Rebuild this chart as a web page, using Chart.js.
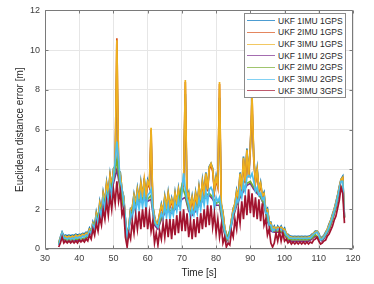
<!DOCTYPE html>
<html>
<head>
<meta charset="utf-8">
<script src="https://cdn.jsdelivr.net/npm/chart.js@4/dist/chart.umd.min.js"></script>
<style>
  html, body { margin: 0; padding: 0; background: #fff; }
  #wrap { position: relative; width: 374px; height: 284px; }
  #legend {
    position: absolute; left: 244px; top: 13px; width: 100px; height: 82px; padding-top: 1px;
    border: 1px solid #8a8a8a; background: #fff;
    font-family: 'Liberation Sans', Arial, sans-serif; font-size: 8.5px; color: #262626;
  }
  .legend-item { display: flex; align-items: center; height: 11.67px; white-space: nowrap; }
  .legend-line { width: 28px; height: 1px; margin: 0 3px 0 2px; opacity: 0.7; }
</style>
</head>
<body>
<div id="wrap">
  <canvas id="chart" width="374" height="284"></canvas>
  <div id="legend"></div>
</div>
<script>
// ─── Data ──────────────────────────────────────────────────────────────────
// fine series sampled every 0.5 s from 34 s, coarse every 1 s from 34 s
const T_FINE = Array.from({ length: 168 }, (_, i) => 34 + i * 0.5);
const T_COARSE = Array.from({ length: 84 }, (_, i) => 34 + i);

const LABELS = ['UKF 1IMU 1GPS', 'UKF 2IMU 1GPS', 'UKF 3IMU 1GPS', 'UKF 1IMU 2GPS', 'UKF 2IMU 2GPS', 'UKF 3IMU 2GPS', 'UKF 3IMU 3GPS'];
const COLORS = ['#0072BD', '#D95319', '#EDB120', '#7E2F8E', '#77AC30', '#4DBEEE', '#A2142F'];

const UKF1_1GPS = [
  0.3,0.6, 0.85,0.66, 0.7,0.66, 0.7,0.66, 0.7,0.68,
  0.74,0.7, 0.74,0.72, 0.78,0.76, 0.84,0.8, 1.05,0.85,
  1.35,1.1, 1.85,1.45, 2.35,1.85, 2.85,2.35, 3.35,2.75,
  3.75,3.05, 4.05,4.15, 9.0,3.95, 3.85,2.95, 2.65,1.45,
  0.75,1.05, 2.05,2.05, 2.75,2.25, 3.05,2.45, 3.35,2.55,
  3.55,2.65, 3.45,3.15, 5.5,2.15, 1.65,1.25, 1.35,1.75,
  2.25,1.85, 2.65,2.05, 2.85,2.15, 2.55,2.05, 2.85,2.25,
  3.05,2.45, 3.15,3.25, 7.8,2.55, 2.85,2.05, 2.65,2.05,
  2.85,2.25, 3.15,2.45, 3.45,2.75, 3.85,2.95, 4.15,4.3,
  4.05,2.95, 3.65,3.15, 7.6,2.25, 1.85,1.05, 0.75,0.45,
  0.95,1.45, 2.05,2.25, 2.95,2.55, 3.85,2.95, 4.65,3.35,
  5.05,3.65, 5.15,7.0, 4.65,3.35, 4.05,2.95, 3.35,2.65,
  2.85,1.95, 2.05,1.35, 1.35,0.95, 1.15,0.95, 1.15,1.0,
  1.15,0.95, 1.05,0.75, 0.74,0.66, 0.64,0.62, 0.64,0.62,
  0.64,0.62, 0.64,0.62, 0.64,0.62, 0.64,0.66, 0.74,0.8,
  0.9,0.9, 0.8,0.55, 0.6,0.68, 0.85,1.0, 1.25,1.45,
  1.75,2.0, 2.35,2.7, 3.15,3.5, 3.65,1.6
];
const UKF2_1GPS = [
  0.25,0.5, 0.75,0.58, 0.62,0.56, 0.62,0.56, 0.62,0.58,
  0.66,0.6, 0.66,0.62, 0.7,0.66, 0.76,0.72, 0.95,0.85,
  1.25,1.1, 1.7,1.45, 2.2,1.85, 2.7,2.3, 3.2,2.7,
  3.6,3.0, 3.9,4.1, 10.6,4.0, 3.7,2.9, 2.5,1.4,
  0.65,1.05, 1.9,2.0, 2.6,2.2, 2.9,2.4, 3.2,2.5,
  3.4,2.6, 3.3,3.1, 6.0,2.1, 1.55,1.25, 1.25,1.75,
  2.1,1.85, 2.5,2.0, 2.7,2.1, 2.4,2.0, 2.7,2.2,
  2.9,2.4, 3.0,3.2, 8.4,2.5, 2.7,2.0, 2.5,2.0,
  2.7,2.2, 3.0,2.4, 3.3,2.7, 3.7,2.9, 4.0,4.2,
  3.9,2.9, 3.5,3.1, 8.3,2.2, 1.75,1.05, 0.65,0.48,
  0.85,1.45, 1.9,2.2, 2.8,2.5, 3.7,2.9, 4.5,3.3,
  4.9,3.6, 5.0,7.6, 4.5,3.3, 3.9,2.9, 3.2,2.6,
  2.7,1.9, 1.9,1.35, 1.25,0.95, 1.05,0.95, 1.05,1.0,
  1.05,0.95, 0.95,0.75, 0.66,0.6, 0.57,0.55, 0.57,0.55,
  0.57,0.55, 0.57,0.55, 0.57,0.55, 0.57,0.6, 0.66,0.76,
  0.82,0.86, 0.72,0.48, 0.52,0.62, 0.76,0.95, 1.15,1.4,
  1.65,1.95, 2.25,2.65, 3.05,3.45, 3.55,1.55
];
const UKF3_1GPS = [
  0.3,0.55, 0.8,0.6, 0.65,0.58, 0.65,0.58, 0.65,0.6,
  0.7,0.62, 0.7,0.65, 0.75,0.68, 0.8,0.75, 1.0,0.9,
  1.3,1.15, 1.8,1.5, 2.3,1.9, 2.8,2.4, 3.3,2.8,
  3.7,3.1, 4.0,4.2, 10.5,4.0, 3.8,3.0, 2.6,1.5,
  0.7,1.1, 2.0,2.1, 2.7,2.3, 3.0,2.5, 3.3,2.6,
  3.5,2.7, 3.4,3.2, 6.1,2.2, 1.6,1.3, 1.3,1.8,
  2.2,1.9, 2.6,2.1, 2.8,2.2, 2.5,2.1, 2.8,2.3,
  3.0,2.5, 3.1,3.3, 8.5,2.6, 2.8,2.1, 2.6,2.1,
  2.8,2.3, 3.1,2.5, 3.4,2.8, 3.8,3.0, 4.1,4.3,
  4.0,3.0, 3.6,3.2, 8.4,2.3, 1.8,1.1, 0.7,0.5,
  0.9,1.5, 2.0,2.3, 2.9,2.6, 3.8,3.0, 4.6,3.4,
  5.0,3.7, 5.1,7.7, 4.6,3.4, 4.0,3.0, 3.3,2.7,
  2.8,2.0, 2.0,1.4, 1.3,1.0, 1.1,1.0, 1.1,1.05,
  1.1,1.0, 1.0,0.8, 0.7,0.62, 0.6,0.58, 0.6,0.58,
  0.6,0.58, 0.6,0.58, 0.6,0.58, 0.6,0.62, 0.7,0.8,
  0.85,0.9, 0.75,0.5, 0.55,0.65, 0.8,1.0, 1.2,1.45,
  1.7,2.0, 2.3,2.7, 3.1,3.5, 3.6,1.6
];
const UKF1_2GPS = [
  0.2,0.6,0.4,0.4,0.4,0.42,0.42,0.45,0.5,0.7,
  1.0,1.4,1.8,2.2,2.6,2.9,3.3,4.0,3.0,2.0,
  0.5,1.5,2.0,2.3,2.4,2.5,2.4,2.5,1.2,1.0,
  1.5,1.8,1.9,1.8,2.0,2.2,2.5,2.6,1.9,1.7,
  1.9,2.2,2.4,2.6,2.7,2.5,2.2,2.2,1.1,0.4,
  0.8,1.6,2.2,2.6,2.9,3.2,3.3,3.0,2.8,2.6,
  2.2,1.4,0.9,0.85,0.85,0.85,0.7,0.45,0.4,0.4,
  0.4,0.4,0.4,0.4,0.5,0.65,0.5,0.4,0.65,0.95,
  1.45,2.05,2.9,3.1
];
const UKF2_2GPS = [
  0.25,0.7,0.47,0.47,0.47,0.5,0.5,0.52,0.58,0.78,
  1.1,1.5,1.9,2.3,2.7,3.0,3.5,4.5,3.1,2.1,
  0.6,1.6,2.2,2.4,2.5,2.6,2.5,2.7,1.3,1.1,
  1.6,1.9,2.0,1.9,2.1,2.3,3.2,2.7,2.0,1.8,
  2.0,2.3,2.5,2.7,2.8,2.6,2.3,2.4,1.2,0.5,
  0.9,1.7,2.3,2.7,3.0,3.3,3.4,3.1,2.9,2.6,
  2.3,1.5,1.0,0.9,0.9,0.9,0.75,0.5,0.47,0.47,
  0.47,0.47,0.47,0.47,0.55,0.72,0.55,0.47,0.7,1.0,
  1.5,2.1,2.95,3.2
];
const UKF3_2GPS = [
  0.2,0.5, 0.8,0.55, 0.55,0.5, 0.55,0.5, 0.55,0.5,
  0.6,0.55, 0.6,0.55, 0.65,0.6, 0.7,0.65, 0.9,0.8,
  1.2,1.0, 1.6,1.3, 2.0,1.6, 2.5,2.0, 2.8,2.4,
  3.2,2.7, 3.6,4.4, 5.4,4.5, 3.4,3.0, 2.4,1.5,
  0.6,1.0, 1.8,1.5, 2.4,1.8, 2.6,2.0, 2.7,2.1,
  2.8,2.0, 2.7,2.8, 3.0,2.0, 1.4,1.2, 1.1,1.5,
  1.8,1.5, 2.2,1.6, 2.2,1.5, 2.0,1.7, 2.3,1.9,
  2.5,2.0, 2.8,3.8, 3.0,2.5, 2.2,1.5, 2.0,1.7,
  2.2,1.8, 2.5,2.0, 2.7,2.2, 2.9,2.3, 3.0,3.1,
  2.9,2.0, 2.6,2.4, 2.6,2.0, 1.4,0.9, 0.6,0.5,
  0.8,1.3, 1.8,2.0, 2.5,2.3, 3.0,2.6, 3.3,2.9,
  3.6,3.7, 3.6,3.8, 3.4,2.9, 3.1,2.7, 2.8,2.5,
  2.6,1.8, 1.8,1.2, 1.2,0.9, 1.0,0.9, 1.0,1.0,
  1.0,0.9, 0.9,0.7, 0.65,0.55, 0.55,0.52, 0.55,0.52,
  0.55,0.52, 0.55,0.52, 0.55,0.52, 0.55,0.55, 0.65,0.75,
  0.8,0.85, 0.7,0.45, 0.5,0.6, 0.75,0.9, 1.1,1.35,
  1.6,1.9, 2.2,2.6, 3.0,3.4, 3.4,1.6
];
const UKF3_3GPS = [
  0.1,0.3, 0.6,0.3, 0.4,0.3, 0.4,0.3, 0.4,0.3,
  0.4,0.3, 0.45,0.35, 0.45,0.35, 0.5,0.4, 0.7,0.5,
  1.0,0.7, 1.3,0.9, 1.6,1.2, 2.0,1.5, 2.4,1.7,
  2.7,2.0, 3.0,2.3, 3.4,2.4, 2.9,1.7, 2.0,0.6,
  0.1,0.8, 0.5,1.4, 0.8,1.7, 1.0,1.9, 1.0,2.0,
  1.1,2.1, 1.0,1.8, 0.9,1.4, 0.3,0.8, 0.2,0.9,
  0.5,1.3, 0.6,1.5, 0.6,1.5, 0.5,1.5, 0.7,1.7,
  0.8,1.9, 0.9,2.0, 0.9,1.8, 0.6,1.4, 0.5,1.5,
  0.6,1.6, 0.8,1.8, 1.0,2.0, 1.1,2.2, 1.2,2.2,
  1.1,1.8, 0.8,1.5, 0.6,1.2, 0.3,0.6, 0.1,0.3,
  0.2,0.9, 0.6,1.5, 1.0,2.0, 1.3,2.4, 1.5,2.7,
  1.7,3.0, 1.8,2.8, 1.6,2.6, 1.5,2.5, 1.4,2.3,
  1.2,1.5, 0.7,1.0, 0.3,0.1, 0.3,0.8, 0.4,0.9,
  0.4,0.8, 0.4,0.5, 0.3,0.4, 0.25,0.35, 0.25,0.35,
  0.25,0.35, 0.25,0.35, 0.25,0.35, 0.25,0.35, 0.3,0.45,
  0.5,0.6, 0.4,0.25, 0.3,0.4, 0.45,0.65, 0.75,0.95,
  1.15,1.45, 1.65,2.05, 2.45,3.1, 2.8,1.3
];

const SERIES = [
  [T_FINE, UKF1_1GPS], [T_FINE, UKF2_1GPS], [T_FINE, UKF3_1GPS],
  [T_COARSE, UKF1_2GPS], [T_COARSE, UKF2_2GPS], [T_FINE, UKF3_2GPS], [T_FINE, UKF3_3GPS]
];

const X_TICKS = [30, 40, 50, 60, 70, 80, 90, 100, 110, 120];
const Y_TICKS = [0, 2, 4, 6, 8, 10, 12];

// ─── Style ─────────────────────────────────────────────────────────────────
const FONT = "'Liberation Sans', Arial, sans-serif";
const AXIS_COLOR = '#7a7a7a';
const GRID_COLOR = '#e6e6e6';
const TICK_COLOR = '#404040';

// MATLAB-like box around the axes with inward tick marks
const axesBox = {
  id: 'axesBox',
  afterDraw(chart) {
    const { ctx, chartArea: a, scales: { x, y } } = chart;
    const L = Math.floor(a.left) + 0.5, R = Math.floor(a.right) - 0.5;
    const T = Math.floor(a.top) + 0.5, B = Math.floor(a.bottom) - 0.5;
    ctx.save();
    ctx.strokeStyle = AXIS_COLOR;
    ctx.lineWidth = 1;
    ctx.beginPath();
    ctx.rect(L, T, R - L, B - T);
    X_TICKS.forEach(v => {
      const px = Math.round(x.getPixelForValue(v)) + 0.5;
      ctx.moveTo(px, B); ctx.lineTo(px, B - 3);
      ctx.moveTo(px, T); ctx.lineTo(px, T + 3);
    });
    Y_TICKS.forEach(v => {
      const py = Math.round(y.getPixelForValue(v)) + 0.5;
      ctx.moveTo(L, py); ctx.lineTo(L + 3, py);
      ctx.moveTo(R, py); ctx.lineTo(R - 3, py);
    });
    ctx.stroke();
    ctx.restore();
  }
};

// ─── Chart ─────────────────────────────────────────────────────────────────
const datasets = SERIES.map(([times, vals], i) => ({
  label: LABELS[i],
  data: vals.map((v, k) => ({ x: times[k], y: v })),
  borderColor: COLORS[i],
  borderWidth: 1.7,
  pointRadius: 0,
  tension: 0,
  fill: false,
  order: SERIES.length - 1 - i,
}));

new Chart(document.getElementById('chart'), {
  type: 'line',
  data: { datasets },
  options: {
    responsive: false,
    animation: false,
    events: [],
    layout: { padding: { left: 0, right: 21, top: 6, bottom: 0 } },
    plugins: { legend: { display: false }, tooltip: { enabled: false } },
    scales: {
      x: {
        type: 'linear', min: 30, max: 120,
        afterFit: s => { s.height = 35; },
        afterBuildTicks: s => { s.ticks = X_TICKS.map(v => ({ value: v })); },
        grid: { color: GRID_COLOR, drawTicks: false },
        border: { display: false },
        ticks: { color: TICK_COLOR, padding: 4, maxRotation: 0, font: { family: FONT, size: 9 } },
        title: { display: true, text: 'Time [s]', color: '#262626', padding: { top: 0, bottom: 5 }, font: { family: FONT, size: 10 } }
      },
      y: {
        type: 'linear', min: 0, max: 12,
        afterFit: s => { s.width = 45; },
        afterBuildTicks: s => { s.ticks = Y_TICKS.map(v => ({ value: v })); },
        grid: { color: GRID_COLOR, drawTicks: false },
        border: { display: false },
        ticks: { color: TICK_COLOR, padding: 5, font: { family: FONT, size: 9 } },
        title: { display: true, text: 'Euclidean distance error [m]', color: '#262626', padding: { top: 14, bottom: 0 }, font: { family: FONT, size: 10 } }
      }
    }
  },
  plugins: [axesBox]
});

// ─── Legend ────────────────────────────────────────────────────────────────
document.getElementById('legend').innerHTML = LABELS.map((l, i) =>
  `<div class="legend-item"><div class="legend-line" style="background:${COLORS[i]}"></div>${l}</div>`
).join('');
</script>
</body>
</html>
